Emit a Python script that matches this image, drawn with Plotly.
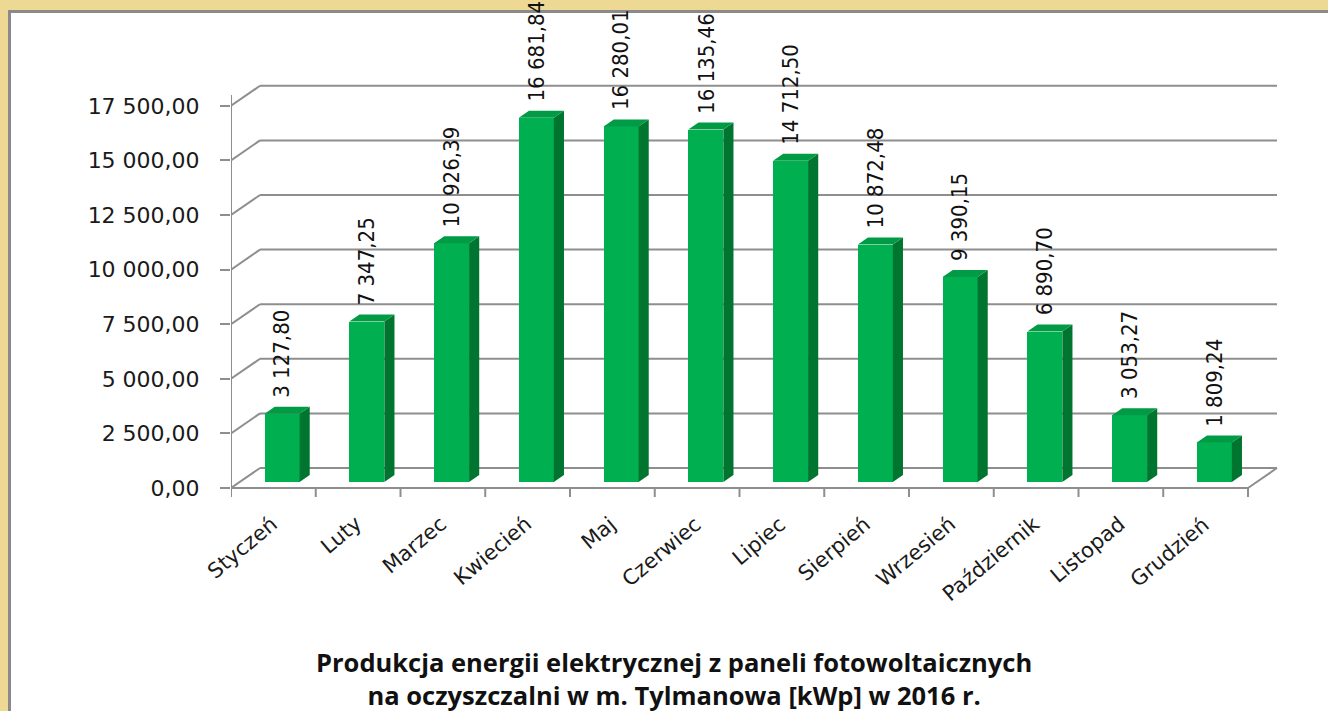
import plotly.graph_objects as go

# ---------------- data ----------------
months = ["Styczeń", "Luty", "Marzec", "Kwiecień", "Maj", "Czerwiec",
          "Lipiec", "Sierpień", "Wrzesień", "Październik", "Listopad", "Grudzień"]
energy = [3127.80, 7347.25, 10926.39, 16681.84, 16280.01, 16135.46,
          14712.50, 10872.48, 9390.15, 6890.70, 3053.27, 1809.24]
y_ticks = [0, 2500, 5000, 7500, 10000, 12500, 15000, 17500]
title_lines = ["Produkcja energii elektrycznej z paneli fotowoltaicznych",
               "na oczyszczalni w m. Tylmanowa [kWp] w 2016 r."]


def pl(v):
    s = f"{v:,.2f}"
    return s.replace(",", " ").replace(".", ",")


# ---------------- geometry (pixel scale of the pseudo-3D view) ----------------
W, H = 1328, 711
L, R, T, B = 231, 38, 70, 211
PX_CAT = 84.75                 # px per category
PX_VAL = 54.6 / 2500           # px per value unit
FLOOR_PX = 488                 # pixel row of value 0 on the front plane
DX = 29 / PX_CAT               # depth offset (categories)
DY = 20 / PX_VAL               # depth offset (value units)
D0, D1 = 0.30, 0.65            # bar front / back depth
BW = 35 / PX_CAT               # bar width
n = len(months)
x_left, x_right = -0.5, n - 0.5

plot_w = W - L - R
plot_h = H - T - B
x_range = [-0.5, -0.5 + plot_w / PX_CAT]
y_range = [-(H - B - FLOOR_PX) / PX_VAL, (FLOOR_PX - T) / PX_VAL]

GRID = "#8E8E8E"
FRONT = "#00B050"
SIDE = "#00752F"
TOP = "#009B44"
GOLD = "#EDD894"


def px2paper_x(px):
    return (px - L) / plot_w


def px2paper_y(py):
    return (H - B - py) / plot_h


fig = go.Figure()

# ---------------- bars: front faces ----------------
fig.add_trace(go.Bar(
    x=[i + D0 * DX for i in range(n)],
    y=energy,
    base=[D0 * DY] * n,
    width=BW,
    marker=dict(color=FRONT, line=dict(width=0)),
    hoverinfo="skip",
))

# side and top faces
sx, sy, tx, ty = [], [], [], []
dd = D1 - D0
for i, v in enumerate(energy):
    xl = i + D0 * DX - BW / 2
    xr = i + D0 * DX + BW / 2
    b0 = D0 * DY
    t0 = v + D0 * DY
    sx += [xr, xr + dd * DX, xr + dd * DX, xr, xr, None]
    sy += [b0, b0 + dd * DY, t0 + dd * DY, t0, b0, None]
    tx += [xl, xr, xr + dd * DX, xl + dd * DX, xl, None]
    ty += [t0, t0, t0 + dd * DY, t0 + dd * DY, t0, None]
fig.add_trace(go.Scatter(x=sx, y=sy, mode="lines", fill="toself", fillcolor=SIDE,
                         line=dict(width=0, color=SIDE), hoverinfo="skip"))
fig.add_trace(go.Scatter(x=tx, y=ty, mode="lines", fill="toself", fillcolor=TOP,
                         line=dict(width=0, color=TOP), hoverinfo="skip"))

# ---------------- frame / walls / grid (shapes below traces) ----------------
shapes = []
# golden border strips (left and top) with gray frame line
shapes.append(dict(type="rect", xref="paper", yref="paper", layer="below",
                   x0=px2paper_x(-5), x1=px2paper_x(8),
                   y0=px2paper_y(H + 5), y1=px2paper_y(-5),
                   fillcolor=GOLD, line=dict(width=0)))
shapes.append(dict(type="rect", xref="paper", yref="paper", layer="below",
                   x0=px2paper_x(-5), x1=px2paper_x(W + 5),
                   y0=px2paper_y(10), y1=px2paper_y(-5),
                   fillcolor=GOLD, line=dict(width=0)))
shapes.append(dict(type="line", xref="paper", yref="paper", layer="below",
                   x0=px2paper_x(9.5), x1=px2paper_x(9.5),
                   y0=px2paper_y(H + 5), y1=px2paper_y(10),
                   line=dict(color="#8A8A8A", width=3)))
shapes.append(dict(type="line", xref="paper", yref="paper", layer="below",
                   x0=px2paper_x(8), x1=px2paper_x(W + 5),
                   y0=px2paper_y(11.5), y1=px2paper_y(11.5),
                   line=dict(color="#8A8A8A", width=3)))


def seg(x0, y0, x1, y1):
    shapes.append(dict(type="line", xref="x", yref="y", layer="below",
                       x0=x0, y0=y0, x1=x1, y1=y1,
                       line=dict(color=GRID, width=2)))


for v in y_ticks:
    seg(x_left, v, x_left + DX, v + DY)                 # left wall
    seg(x_left + DX, v + DY, x_right + DX, v + DY)      # back wall
# floor
seg(x_left, 0, x_right, 0)
seg(x_right, 0, x_right + DX, DY)
# front vertical axis
seg(x_left, 0, x_left, y_ticks[-1] + 500)
# category boundary ticks
for k in range(n + 1):
    seg(x_left + k, 0, x_left + k, -9 / PX_VAL)

annotations = []
# data labels
for i, v in enumerate(energy):
    annotations.append(dict(
        x=i + D0 * DX, y=v + D0 * DY, xref="x", yref="y",
        text=pl(v), showarrow=False, textangle=-90,
        xanchor="center", yanchor="bottom", yshift=14,
        font=dict(family="Liberation Sans Narrow, DejaVu Sans Condensed, sans-serif",
                  size=22, color="#111111")))
# category labels
for i, m in enumerate(months):
    annotations.append(dict(
        x=i, y=0, xref="x", yref="y", text=m, showarrow=False,
        textangle=-40, xanchor="right", yanchor="top", yshift=-21, xshift=11,
        font=dict(family="DejaVu Sans, Verdana, sans-serif", size=21, color="#1a1a1a")))
# title
annotations.append(dict(
    x=px2paper_x(674), y=px2paper_y(678), xref="paper", yref="paper",
    text="<b>" + "<br>".join(title_lines) + "</b>", showarrow=False,
    xanchor="center", yanchor="middle", align="center",
    font=dict(family="Open Sans, Lato, sans-serif", size=25.5, color="#111111")))

fig.update_layout(
    width=W, height=H,
    margin=dict(l=L, r=R, t=T, b=B, pad=0),
    paper_bgcolor="white",
    plot_bgcolor="rgba(0,0,0,0)",
    showlegend=False,
    shapes=shapes,
    annotations=annotations,
    bargap=0,
    xaxis=dict(range=x_range, visible=False, fixedrange=True),
    yaxis=dict(range=y_range, showgrid=False, zeroline=False, showline=False,
               tickvals=y_ticks, ticktext=[pl(v) for v in y_ticks],
               ticks="outside", ticklen=10, tickwidth=2, tickcolor=GRID,
               ticklabelstandoff=16,
               tickfont=dict(family="DejaVu Sans, Verdana, sans-serif", size=22,
                             color="#1a1a1a"),
               fixedrange=True),
)

fig.write_html("out.html")
